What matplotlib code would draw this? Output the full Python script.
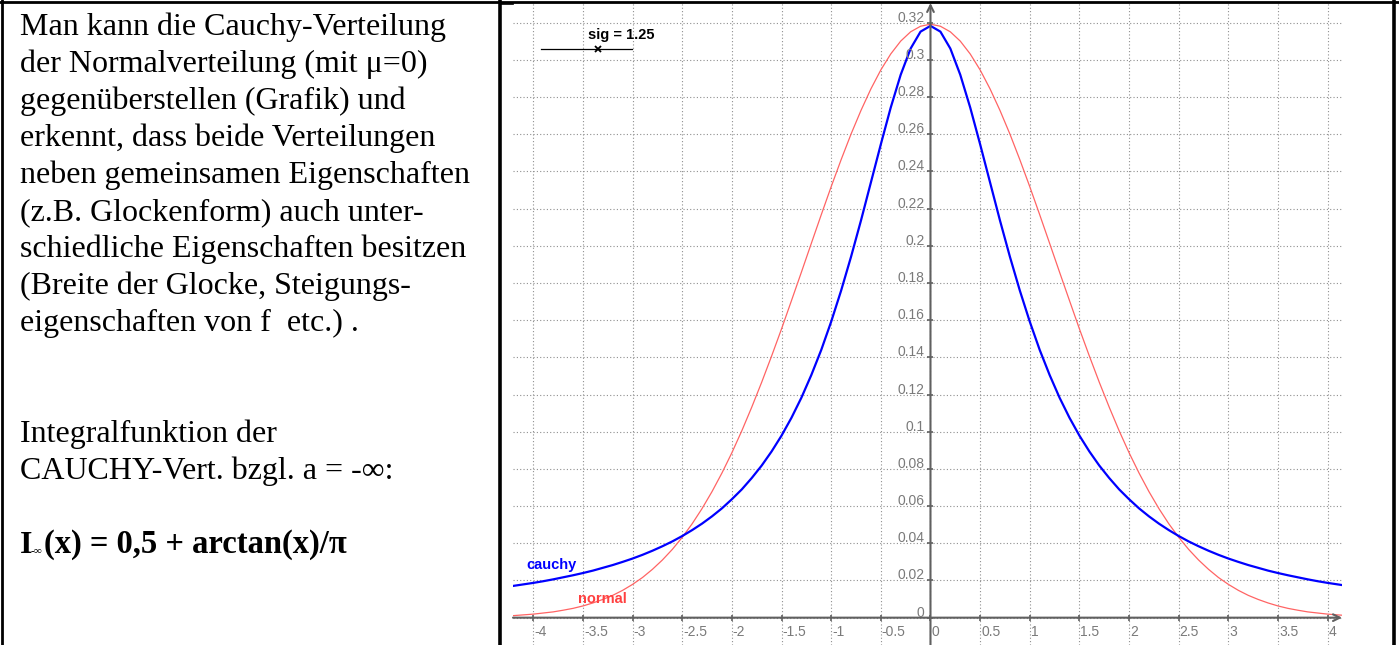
import matplotlib
matplotlib.use("Agg")
from matplotlib import pyplot as plt
from matplotlib.lines import Line2D

# curve values
x_vals = [-4.2, -4.1, -4.0, -3.9, -3.8, -3.7, -3.6, -3.5, -3.4, -3.3, -3.2, -3.1,
          -3.0, -2.9, -2.8, -2.7, -2.6, -2.5, -2.4, -2.3, -2.2, -2.1, -2.0, -1.9,
          -1.8, -1.7, -1.6, -1.5, -1.4, -1.3, -1.2, -1.1, -1.0, -0.9, -0.8, -0.7,
          -0.6, -0.5, -0.4, -0.3, -0.2, -0.1, 0.0, 0.1, 0.2, 0.3, 0.4, 0.5, 0.6,
          0.7, 0.8, 0.9, 1.0, 1.1, 1.2, 1.3, 1.4, 1.5, 1.6, 1.7, 1.8, 1.9, 2.0,
          2.1, 2.2, 2.3, 2.4, 2.5, 2.6, 2.7, 2.8, 2.9, 3.0, 3.1, 3.2, 3.3, 3.4,
          3.5, 3.6, 3.7, 3.8, 3.9, 4.0, 4.1, 4.2]
cauchy = [0.0171, 0.0179, 0.0187, 0.0196, 0.0206, 0.0217, 0.0228, 0.0240, 0.0253,
          0.0268, 0.0283, 0.0300, 0.0318, 0.0338, 0.0360, 0.0384, 0.0410, 0.0439,
          0.0471, 0.0506, 0.0545, 0.0588, 0.0637, 0.0690, 0.0751, 0.0818, 0.0894,
          0.0979, 0.1075, 0.1183, 0.1305, 0.1440, 0.1592, 0.1759, 0.1941, 0.2136,
          0.2341, 0.2546, 0.2744, 0.2920, 0.3061, 0.3152, 0.3183, 0.3152, 0.3061,
          0.2920, 0.2744, 0.2546, 0.2341, 0.2136, 0.1941, 0.1759, 0.1592, 0.1440,
          0.1305, 0.1183, 0.1075, 0.0979, 0.0894, 0.0818, 0.0751, 0.0690, 0.0637,
          0.0588, 0.0545, 0.0506, 0.0471, 0.0439, 0.0410, 0.0384, 0.0360, 0.0338,
          0.0318, 0.0300, 0.0283, 0.0268, 0.0253, 0.0240, 0.0228, 0.0217, 0.0206,
          0.0196, 0.0187, 0.0179, 0.0171]
normal = [0.0011, 0.0015, 0.0019, 0.0025, 0.0031, 0.0040, 0.0050, 0.0063, 0.0079,
          0.0098, 0.0120, 0.0147, 0.0179, 0.0216, 0.0260, 0.0310, 0.0367, 0.0432,
          0.0505, 0.0587, 0.0678, 0.0778, 0.0887, 0.1005, 0.1132, 0.1266, 0.1407,
          0.1553, 0.1705, 0.1858, 0.2013, 0.2167, 0.2318, 0.2463, 0.2601, 0.2728,
          0.2844, 0.2946, 0.3032, 0.3101, 0.3151, 0.3181, 0.3192, 0.3181, 0.3151,
          0.3101, 0.3032, 0.2946, 0.2844, 0.2728, 0.2601, 0.2463, 0.2318, 0.2167,
          0.2013, 0.1858, 0.1705, 0.1553, 0.1407, 0.1266, 0.1132, 0.1005, 0.0887,
          0.0778, 0.0678, 0.0587, 0.0505, 0.0432, 0.0367, 0.0310, 0.0260, 0.0216,
          0.0179, 0.0147, 0.0120, 0.0098, 0.0079, 0.0063, 0.0050, 0.0040, 0.0031,
          0.0025, 0.0019, 0.0015, 0.0011]

x_ticks = [-4, -3.5, -3, -2.5, -2, -1.5, -1, -0.5, 0, 0.5, 1, 1.5, 2, 2.5, 3, 3.5, 4]
x_labels = ["-4", "-3.5", "-3", "-2.5", "-2", "-1.5", "-1", "-0.5", "0",
            "0.5", "1", "1.5", "2", "2.5", "3", "3.5", "4"]
y_ticks = [0, 0.02, 0.04, 0.06, 0.08, 0.1, 0.12, 0.14, 0.16, 0.18, 0.2, 0.22,
           0.24, 0.26, 0.28, 0.3, 0.32]
y_labels = ["0", "0.02", "0.04", "0.06", "0.08", "0.1", "0.12", "0.14", "0.16",
            "0.18", "0.2", "0.22", "0.24", "0.26", "0.28", "0.3", "0.32"]

sig = 1.25
sig_min, sig_max = 0.0, 2.0

text_lines = [
    "Man kann die Cauchy-Verteilung",
    "der Normalverteilung (mit \u03bc=0)",
    "gegen\u00fcberstellen (Grafik) und",
    "erkennt, dass beide Verteilungen",
    "neben gemeinsamen Eigenschaften",
    "(z.B. Glockenform) auch unter-",
    "schiedliche Eigenschaften besitzen",
    "(Breite der Glocke, Steigungs-",
    "eigenschaften von f  etc.) .",
    "",
    "",
    "Integralfunktion der",
    "CAUCHY-Vert. bzgl. a = -\u221e:",
]

W, H = 1399, 645
fig = plt.figure(figsize=(W / 100, H / 100), dpi=100)
fig.patch.set_facecolor("white")

# table borders
def px_line(x0, y0, x1, y1, lw=2.0):
    fig.add_artist(Line2D([x0 / W, x1 / W], [1 - y0 / H, 1 - y1 / H],
                          color="black", lw=lw, transform=fig.transFigure))

px_line(0, 2, W, 2)
px_line(2, 0, 2, H)
px_line(499.5, 0, 499.5, H, lw=2.6)
px_line(1394, 0, 1394, H, lw=2.6)
px_line(500, 4, 513, 4, lw=1.2)

# left cell text
serif = "Liberation Serif"
for i, line in enumerate(text_lines):
    if line:
        fig.text(20 / W, 1 - (35 + 37 * i) / H, line, family=serif, fontsize=23,
                 va="baseline", ha="left")
yb = 1 - (35 + 37 * 14) / H
fig.text(20 / W, yb, "I", family=serif, fontsize=23, weight="bold", va="baseline")
fig.text(31 / W, yb, "-\u221e", family=serif, fontsize=8, weight="bold", va="baseline")
fig.text(44 / W, yb, "(x) = 0,5 + arctan(x)/\u03c0", family=serif, fontsize=23.5,
         weight="bold", va="baseline")

# plot
ax = fig.add_axes([513 / W, 0, (1342 - 513) / W, 1 - 3 / H])
ax.set_xlim(-4.204, 4.144)
ax.set_ylim(-0.0147, 0.3306)
for s in ax.spines.values():
    s.set_visible(False)
ax.set_xticks(x_ticks)
ax.set_yticks(y_ticks)
ax.tick_params(length=0, labelbottom=False, labelleft=False)
ax.grid(True, color="#8f8f8f", lw=0.8, ls=(0, (1, 2)))
ax.set_axisbelow(True)

axis_col = "#606060"
ax.annotate("", xy=(4.144, 0), xytext=(-4.204, 0),
            arrowprops=dict(arrowstyle="->", color=axis_col, lw=1.5,
                            shrinkA=0, shrinkB=0, mutation_scale=12))
ax.annotate("", xy=(0, 0.3306), xytext=(0, -0.0147),
            arrowprops=dict(arrowstyle="->", color=axis_col, lw=1.5,
                            shrinkA=0, shrinkB=0, mutation_scale=12))
ax.plot(x_ticks, [0] * len(x_ticks), ls="none", marker="|", ms=5, mew=1.2,
        color=axis_col)
ax.plot([0] * len(y_ticks), y_ticks, ls="none", marker="_", ms=5, mew=1.2,
        color=axis_col)

lab_col = "#7a7a7a"
for v, t in zip(x_ticks, x_labels):
    ax.annotate(t, xy=(v, 0), xytext=(1, -18), textcoords="offset pixels",
                ha="left", va="baseline", fontsize=10, color=lab_col,
                family="Liberation Sans")
for v, t in zip(y_ticks, y_labels):
    ax.annotate(t, xy=(0, v), xytext=(-6, 1), textcoords="offset pixels",
                ha="right", va="baseline", fontsize=10, color=lab_col,
                family="Liberation Sans")

ax.plot(x_vals, normal, color="#ff6464", lw=0.9)
ax.plot(x_vals, cauchy, color="#0000ff", lw=1.6)

ax.text(-4.07, 0.026, "cauchy", color="#0000ff", fontsize=10.5, weight="bold",
        family="Liberation Sans", va="baseline")
ax.text(-3.55, 0.0077, "normal", color="#ff4040", fontsize=10.5, weight="bold",
        family="Liberation Sans", va="baseline")

# slider
ax.text(-3.452, 0.3111, "sig = %.2f" % sig, color="black", fontsize=10.5,
        weight="bold", family="Liberation Sans", va="baseline")
s0, s1, sy = -3.922, -3.009, 0.3057
ax.plot([s0, s1], [sy, sy], color="black", lw=0.9)
ax.plot([s0 + (s1 - s0) * (sig - sig_min) / (sig_max - sig_min)], [sy],
        marker="x", ms=5, mew=1.3, color="black")

fig.savefig("out.png", dpi=100)
